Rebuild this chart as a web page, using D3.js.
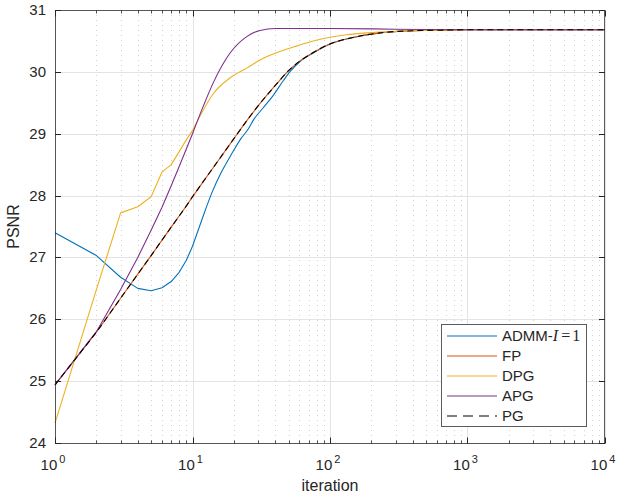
<!DOCTYPE html>
<html>
<head>
<meta charset="utf-8">
<script src="https://cdn.jsdelivr.net/npm/d3@7/dist/d3.min.js"></script>
<style>
  html, body { margin: 0; padding: 0; background: #ffffff; }
  svg { display: block; font-family: "Liberation Sans", Arial, Helvetica, sans-serif; }
</style>
</head>
<body>
<div id="chart"></div>
<script>
// ---- data ----
const admmIter = [1, 2, 3, 4, 5, 6, 7, 8, 9, 10, 11.7, 13.8, 15.8, 17.7, 19.8, 22.5, 25.5, 27.7, 32.7, 38.7, 45.8, 51, 60, 75, 100, 150, 230, 400, 1000, 10000];
const admmPsnr = [27.40, 27.03, 26.68, 26.50, 26.46, 26.51, 26.61, 26.76, 26.95, 27.18, 27.61, 28.04, 28.33, 28.53, 28.72, 28.92, 29.08, 29.22, 29.42, 29.62, 29.86, 30.00, 30.16, 30.30, 30.45, 30.56, 30.63, 30.665, 30.68, 30.68];

const fpIter = [1, 2, 3, 4, 5, 6, 7, 8, 9, 10, 12, 15, 20, 25, 30, 40, 50, 60, 75, 100, 150, 230, 400, 700, 1000, 10000];
const fpPsnr = [24.94, 25.79, 26.34, 26.73, 27.03, 27.28, 27.49, 27.67, 27.83, 27.98, 28.23, 28.53, 28.92, 29.22, 29.45, 29.78, 30.02, 30.17, 30.31, 30.45, 30.56, 30.63, 30.665, 30.675, 30.68, 30.68];

const dpgIter = [1, 2, 3, 4, 5, 6, 7, 8, 9, 10, 11.3, 14.2, 18.7, 24.8, 32.7, 43.3, 57.4, 75.6, 100, 132, 185, 300, 500, 1000, 10000];
const dpgPsnr = [24.32, 26.48, 27.72, 27.82, 27.98, 28.38, 28.50, 28.71, 28.90, 29.05, 29.28, 29.65, 29.90, 30.06, 30.22, 30.33, 30.42, 30.50, 30.56, 30.60, 30.63, 30.655, 30.67, 30.68, 30.68];

const apgIter = [1, 2, 3, 4, 5, 6, 7, 8, 9, 10, 12, 14.2, 18.7, 24.8, 31, 40, 60, 100, 300, 1000, 10000];
const apgPsnr = [24.94, 25.80, 26.48, 27.00, 27.44, 27.81, 28.16, 28.47, 28.75, 29.00, 29.45, 29.83, 30.30, 30.57, 30.67, 30.70, 30.70, 30.70, 30.69, 30.68, 30.68];

const pgIter = fpIter.slice();
const pgPsnr = fpPsnr.slice();

const yTicks = [24, 25, 26, 27, 28, 29, 30, 31];
const xTickExps = [0, 1, 2, 3, 4];

// ---- layout ----
const W = 620, H = 498;
const margin = { left: 55, top: 10, right: 15, bottom: 55 };
const plotW = W - margin.left - margin.right;   // 550
const plotH = H - margin.top - margin.bottom;   // 433

const svg = d3.select('#chart').append('svg')
    .attr('width', W)
    .attr('height', H);

const x = d3.scaleLog().domain([1, 10000]).range([margin.left, margin.left + plotW]);
const y = d3.scaleLinear().domain([24, 31]).range([margin.top + plotH, margin.top]);

const axisColor = '#262626';

// minor grid (x only, dotted)
const minorVals = [];
for (let e = 0; e < 4; e++) {
    for (let m = 2; m <= 9; m++) minorVals.push(m * Math.pow(10, e));
}
const grid = svg.append('g').attr('class', 'grid');
grid.selectAll('line.minor')
    .data(minorVals)
    .enter().append('line')
    .attr('class', 'minor')
    .attr('x1', d => Math.round(x(d)) + 0.5)
    .attr('x2', d => Math.round(x(d)) + 0.5)
    .attr('y1', margin.top)
    .attr('y2', margin.top + plotH)
    .attr('stroke', '#d2d2d2')
    .attr('stroke-width', 1)
    .attr('stroke-dasharray', '1,4');

// major grid
grid.selectAll('line.mx')
    .data(xTickExps.map(e => Math.pow(10, e)))
    .enter().append('line')
    .attr('class', 'mx')
    .attr('x1', d => Math.round(x(d)) + 0.5)
    .attr('x2', d => Math.round(x(d)) + 0.5)
    .attr('y1', margin.top)
    .attr('y2', margin.top + plotH)
    .attr('stroke', '#e3e3e3')
    .attr('stroke-width', 1);
grid.selectAll('line.my')
    .data(yTicks)
    .enter().append('line')
    .attr('class', 'my')
    .attr('x1', margin.left)
    .attr('x2', margin.left + plotW)
    .attr('y1', d => Math.round(y(d)) + 0.5)
    .attr('y2', d => Math.round(y(d)) + 0.5)
    .attr('stroke', '#e3e3e3')
    .attr('stroke-width', 1);

// ---- series ----
// integer iterations 1..10 are joined by straight segments, the dense tail is smoothed
const lineLinear = d3.line()
    .x(d => x(d[0]))
    .y(d => y(d[1]));
const lineSmooth = d3.line()
    .x(d => x(d[0]))
    .y(d => y(d[1]))
    .curve(d3.curveMonotoneX);
const pathFor = pts => {
    const head = pts.filter(p => p[0] <= 10);
    const tail = pts.filter(p => p[0] >= 10);
    return lineLinear(head) + lineSmooth(tail).replace(/^M[^A-Za-z]*/, 'L' + x(tail[0][0]) + ',' + y(tail[0][1]));
};

const zip = (a, b) => a.map((v, i) => [v, b[i]]);
const series = [
    { name: 'ADMM', pts: zip(admmIter, admmPsnr), color: '#0072BD', dash: null },
    { name: 'FP', pts: zip(fpIter, fpPsnr), color: '#D95319', dash: null },
    { name: 'DPG', pts: zip(dpgIter, dpgPsnr), color: '#EDB120', dash: null },
    { name: 'APG', pts: zip(apgIter, apgPsnr), color: '#7E2F8E', dash: null },
    { name: 'PG', pts: zip(pgIter, pgPsnr), color: '#000000', dash: '6,4' }
];

const lines = svg.append('g').attr('class', 'lines');
series.forEach(s => {
    lines.append('path')
        .attr('d', pathFor(s.pts))
        .attr('fill', 'none')
        .attr('stroke', s.color)
        .attr('stroke-width', 1.1)
        .attr('stroke-linejoin', 'round')
        .attr('stroke-dasharray', s.dash);
});

// ---- axes box and ticks ----
const axes = svg.append('g').attr('class', 'axes');
axes.append('rect')
    .attr('x', margin.left + 0.5)
    .attr('y', margin.top + 0.5)
    .attr('width', plotW - 1)
    .attr('height', plotH)
    .attr('fill', 'none')
    .attr('stroke', axisColor)
    .attr('stroke-opacity', 0.75)
    .attr('stroke-width', 1);

const bottomY = margin.top + plotH + 0.5;
const topY = margin.top + 0.5;
// x ticks (major and minor) on bottom and top, pointing inward
xTickExps.forEach(e => {
    const px = Math.round(x(Math.pow(10, e))) + 0.5;
    axes.append('line').attr('x1', px).attr('x2', px).attr('y1', bottomY).attr('y2', bottomY - 6).attr('stroke', axisColor);
    axes.append('line').attr('x1', px).attr('x2', px).attr('y1', topY).attr('y2', topY + 6).attr('stroke', axisColor);
});
minorVals.forEach(v => {
    const px = Math.round(x(v)) + 0.5;
    axes.append('line').attr('x1', px).attr('x2', px).attr('y1', bottomY).attr('y2', bottomY - 3).attr('stroke', axisColor).attr('stroke-opacity', 0.8);
    axes.append('line').attr('x1', px).attr('x2', px).attr('y1', topY).attr('y2', topY + 3).attr('stroke', axisColor).attr('stroke-opacity', 0.8);
});
// y ticks left and right
yTicks.forEach(t => {
    const py = Math.round(y(t)) + 0.5;
    axes.append('line').attr('x1', margin.left).attr('x2', margin.left + 6).attr('y1', py).attr('y2', py).attr('stroke', axisColor);
    axes.append('line').attr('x1', margin.left + plotW).attr('x2', margin.left + plotW - 6).attr('y1', py).attr('y2', py).attr('stroke', axisColor);
});

// y tick labels
axes.selectAll('text.ylab')
    .data(yTicks)
    .enter().append('text')
    .attr('class', 'ylab')
    .attr('x', margin.left - 9)
    .attr('y', d => y(d) + 5)
    .attr('text-anchor', 'end')
    .attr('font-size', 15)
    .attr('fill', axisColor)
    .text(d => d);

// x tick labels 10^e
xTickExps.forEach(e => {
    const t = axes.append('text')
        .attr('x', x(Math.pow(10, e)) - 2)
        .attr('y', margin.top + plotH + 27)
        .attr('text-anchor', 'middle')
        .attr('font-size', 15)
        .attr('fill', axisColor);
    t.append('tspan').text('10');
    t.append('tspan').attr('dy', -7).attr('dx', 2).attr('font-size', 11).text(e);
});

// axis labels
svg.append('text')
    .attr('x', margin.left + plotW / 2)
    .attr('y', H - 7)
    .attr('text-anchor', 'middle')
    .attr('font-size', 16)
    .attr('fill', axisColor)
    .text('iteration');
svg.append('text')
    .attr('transform', `translate(19, ${margin.top + plotH / 2}) rotate(-90)`)
    .attr('text-anchor', 'middle')
    .attr('font-size', 16)
    .attr('fill', axisColor)
    .text('PSNR');

// ---- legend ----
const legend = svg.append('g').attr('class', 'legend');
legend.append('rect')
    .attr('x', 441.5)
    .attr('y', 324.5)
    .attr('width', 145)
    .attr('height', 102)
    .attr('fill', '#ffffff')
    .attr('stroke', axisColor)
    .attr('stroke-opacity', 0.75);

const serif = '"Liberation Serif", "DejaVu Serif", serif';
series.forEach((s, i) => {
    const ly = 336 + i * 20;
    legend.append('line')
        .attr('x1', 447).attr('x2', 497)
        .attr('y1', ly).attr('y2', ly)
        .attr('stroke', s.color)
        .attr('stroke-width', 1.1)
        .attr('stroke-dasharray', s.dash ? '10,6' : null);
    const t = legend.append('text')
        .attr('x', 502)
        .attr('y', ly + 5)
        .attr('font-size', 15)
        .attr('fill', axisColor);
    if (s.name === 'ADMM') {
        t.append('tspan').text('ADMM-');
        t.append('tspan').attr('font-family', serif).attr('font-style', 'italic').attr('font-size', 16).text('I');
        t.append('tspan').attr('font-family', serif).attr('font-size', 16).attr('dx', 3).text('=');
        t.append('tspan').attr('font-family', serif).attr('font-size', 16).attr('dx', 2).text('1');
    } else {
        t.text(s.name);
    }
});
</script>
</body>
</html>
